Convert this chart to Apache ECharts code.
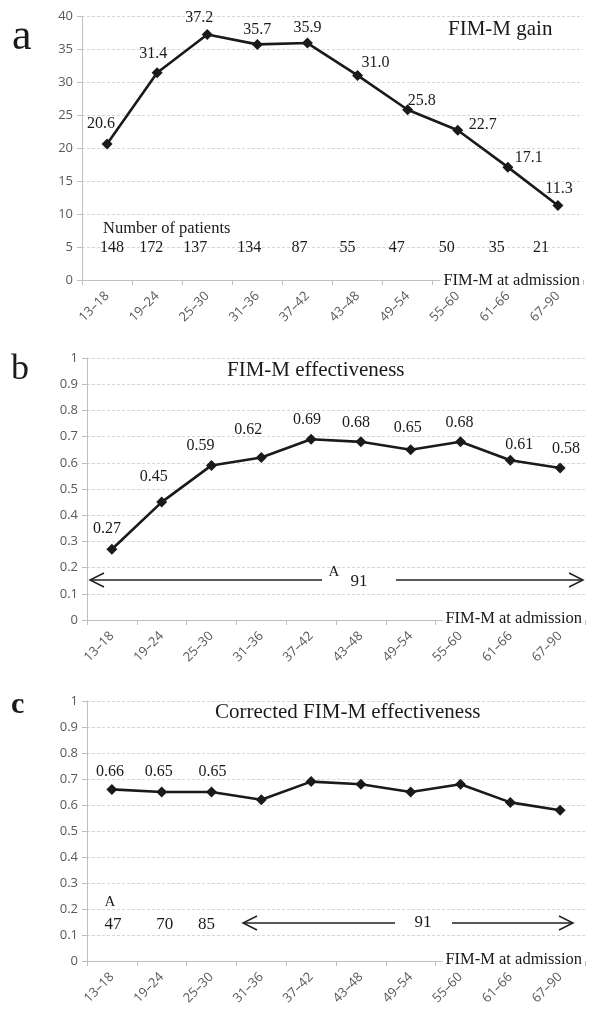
<!DOCTYPE html>
<html>
<head>
<meta charset="utf-8">
<script src="https://cdn.jsdelivr.net/npm/echarts@6/dist/echarts.min.js"></script>
<style>
html,body{margin:0;padding:0;background:#fff;}
#main{width:590px;height:1010px;}
</style>
</head>
<body>
<div id="main"></div>
<script>
// ---------- data ----------
const categories = ['13–18','19–24','25–30','31–36','37–42','43–48','49–54','55–60','61–66','67–90'];
const gainValues = [20.6, 31.4, 37.2, 35.7, 35.9, 31.0, 25.8, 22.7, 17.1, 11.3];
const patientCounts = [148, 172, 137, 134, 87, 55, 47, 50, 35, 21];
const effectivenessValues = [0.27, 0.45, 0.59, 0.62, 0.69, 0.68, 0.65, 0.68, 0.61, 0.58];
const correctedValues = [0.66, 0.65, 0.65, 0.62, 0.69, 0.68, 0.65, 0.68, 0.61, 0.58];
const correctedCounts = [47, 70, 85];
const gainTicks = { min: 0, max: 40, interval: 5 };
const effTicks = { min: 0, max: 1, interval: 0.1 };
const patientRowY = 4.85;       // y level of the patient-count row (panel a)
const correctedRowY = 0.142;    // y level of the count row (panel c)

// ---------- layout / style (not data) ----------
const gainLabelOffsets = [[-6,-20],[-4,-19],[-8,-17],[0,-15],[0,-15],[18,-13],[14,-9],[25,-5],[21,-9],[1,-17]];
const patientOffsets = [5,-6,-12,-8,-8,-10,-11,-11,-11,-17];
const effLabelOffsets = [[-5,-20],[-8,-25],[-11,-20],[-13,-28],[-4,-19],[-5,-19],[-3,-22],[-1,-19],[9,-15],[6,-19]];
const corrLabelOffsets = [[-2,-18],[-3,-20],[1,-20]];
const corrCountOffsets = [1,3,-5];

const SERIF = '"Liberation Serif","Times New Roman",serif';
const SANS = '"Open Sans","Liberation Sans",sans-serif';
const INK = '#1a1a1a';
const AXIS = '#bfbfbf';
const GRID = '#d6d6d6';
const TICKLBL = '#595959';

function xAxisFor(gi){
  return {
    type:'category', gridIndex:gi, data:categories, boundaryGap:true,
    axisLine:{show:true, lineStyle:{color:AXIS, width:1}},
    axisTick:{show:true, length:5, lineStyle:{color:AXIS}},
    axisLabel:{rotate:45, margin:14, fontSize:13, color:TICKLBL, fontFamily:SANS, interval:0},
    splitLine:{show:false}
  };
}
function yAxisFor(gi, t){
  return {
    type:'value', gridIndex:gi, min:t.min, max:t.max, interval:t.interval,
    axisLine:{show:true, lineStyle:{color:AXIS}},
    axisTick:{show:true, length:5, lineStyle:{color:AXIS}},
    axisLabel:{fontSize:13, color:TICKLBL, fontFamily:SANS, margin:9},
    splitLine:{show:true, lineStyle:{color:GRID, type:[3,2], width:1}}
  };
}
function lineSeries(idx, values, fmt, offsets, showFn){
  return {
    type:'line', xAxisIndex:idx, yAxisIndex:idx,
    data: values.map((v,i)=>({
      value:v,
      label:{
        show: showFn ? showFn(i) : true,
        position:'inside', align:'center', verticalAlign:'middle',
        offset: offsets[i] || [0,0]
      }
    })),
    symbol:'diamond', symbolSize:11, showAllSymbol:true,
    itemStyle:{color:INK, opacity:1},
    lineStyle:{color:INK, width:2.6},
    label:{formatter:p=>fmt(p.value), fontFamily:SERIF, fontSize:16, color:INK},
    animation:false, z:5
  };
}
function textRowSeries(idx, counts, yLevel, offsets, size){
  return {
    type:'scatter', xAxisIndex:idx, yAxisIndex:idx,
    data: counts.map((c,i)=>({
      value:[i, yLevel, c],
      label:{offset:[offsets[i]||0, 0]}
    })),
    symbolSize:0, silent:true,
    itemStyle:{color:INK, opacity:1},
    label:{show:true, position:'inside', align:'center', verticalAlign:'middle',
      formatter:p=>String(p.value[2]), fontFamily:SERIF, fontSize:size, color:INK,
      textBorderWidth:0, opacity:1},
    animation:false, z:4
  };
}

function txt(x, y, s, size, opts){
  opts = opts || {};
  return {
    type:'text', z:100, silent:true,
    style:Object.assign({
      x:x, y:y, text:s, fill:INK,
      font:(opts.weight||'normal')+' '+size+'px '+SERIF,
      textAlign:opts.align||'left', textVerticalAlign:'middle'
    }, opts.bg ? {backgroundColor:'#fff', padding:[0,3,0,3]} : {})
  };
}
function seg(x1,y,x2){
  return {type:'line', z:50, silent:true, shape:{x1:x1,y1:y,x2:x2,y2:y}, style:{stroke:'#222', lineWidth:1.5}};
}
function head(x, y, dir){
  return {type:'polyline', z:50, silent:true,
    shape:{points:[[x - dir*14, y-7],[x, y],[x - dir*14, y+7]]},
    style:{stroke:'#222', lineWidth:1.5, fill:null}};
}

const chart = echarts.init(document.getElementById('main'), null, {renderer:'canvas'});
chart.setOption({
  animation:false,
  backgroundColor:'#fff',
  grid:[
    {left:82, top:16, width:501, height:264},
    {left:87, top:358, width:498, height:262},
    {left:87, top:701, width:498, height:260}
  ],
  xAxis:[xAxisFor(0), xAxisFor(1), xAxisFor(2)],
  yAxis:[yAxisFor(0,gainTicks), yAxisFor(1,effTicks), yAxisFor(2,effTicks)],
  series:[
    lineSeries(0, gainValues, v=>v.toFixed(1), gainLabelOffsets),
    textRowSeries(0, patientCounts, patientRowY, patientOffsets, 16),
    lineSeries(1, effectivenessValues, v=>v.toFixed(2), effLabelOffsets),
    lineSeries(2, correctedValues, v=>v.toFixed(2), corrLabelOffsets, i=>i<3),
    textRowSeries(2, correctedCounts, correctedRowY, corrCountOffsets, 17)
  ],
  graphic:[
    txt(12, 37, 'a', 44),
    txt(11, 370, 'b', 36),
    txt(11, 705, 'c', 30, {weight:'bold'}),
    txt(448, 29, 'FIM-M gain', 21),
    txt(227, 370, 'FIM-M effectiveness', 21),
    txt(215, 712, 'Corrected FIM-M effectiveness', 21),
    txt(103, 229, 'Number of patients', 16.5),
    txt(583, 281, 'FIM-M at admission', 16.5, {align:'right', bg:true}),
    txt(585, 619, 'FIM-M at admission', 16.5, {align:'right', bg:true}),
    seg(90, 580, 322), seg(396, 580, 583),
    head(90, 580, -1), head(583, 580, 1),
    txt(334, 572, 'A', 15, {align:'center'}),
    txt(359, 582, '91', 17, {align:'center'}),
    txt(585, 960, 'FIM-M at admission', 16.5, {align:'right', bg:true}),
    txt(110, 902, 'A', 15, {align:'center'}),
    seg(243, 923, 395), seg(452, 923, 573),
    head(243, 923, -1), head(573, 923, 1),
    txt(423, 923, '91', 17, {align:'center'})
  ]
});
</script>
</body>
</html>
